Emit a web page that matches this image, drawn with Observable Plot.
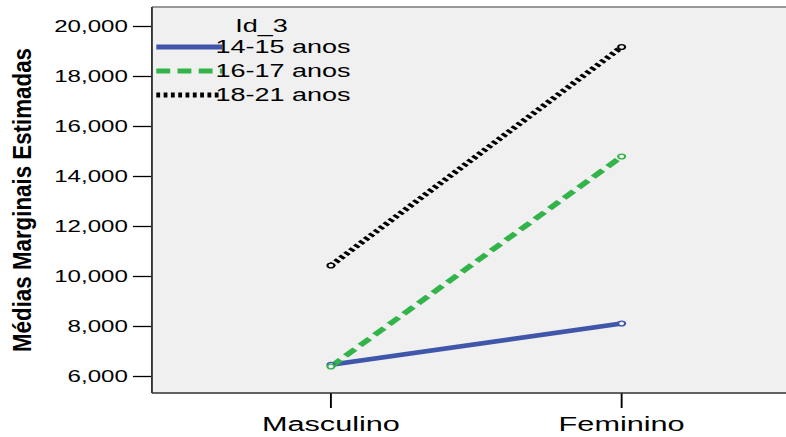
<!DOCTYPE html>
<html>
<head>
<meta charset="utf-8">
<script src="https://cdn.jsdelivr.net/npm/d3@7"></script>
<script src="https://cdn.jsdelivr.net/npm/@observablehq/plot@0.6"></script>
<style>
  html, body { margin: 0; padding: 0; background: white; }
  #chart { width: 786px; height: 437px; overflow: hidden; }
</style>
</head>
<body>
<div id="chart"></div>
<script>
// ---- data ----
const sexos = ["Masculino", "Feminino"];
const grupos = ["14-15 anos", "16-17 anos", "18-21 anos"];
const medias1415 = [6470, 8120];
const medias1617 = [6400, 14800];
const medias1821 = [10440, 19180];
const yTicks = [6000, 8000, 10000, 12000, 14000, 16000, 18000, 20000];
const legendTitle = "Id_3";
const yTitle = "Médias Marginais Estimadas";

// ---- styles ----
const colors = ["#3f56ab", "#33b44a", "#000000"];
const dashes = [null, "9.5,5", "2.6,2.4"];
const seriesValues = [medias1415, medias1617, medias1821];

const rows = grupos.map((g, i) => sexos.map((s, j) => ({grupo: g, sexo: s, valor: seriesValues[i][j]})));

const S = 1.46;               // horizontal stretch of the reference
const W = Math.round(786 / S);
const H = 437;
const mL = 104, mT = 7, mB = 44, mR = 0;
const font = "'Liberation Sans', Arial, Helvetica, sans-serif";

const marks = [
  Plot.frame({fill: "#f0f0f0", stroke: null}),
  Plot.axisY(yTicks, {tickSize: 13, tickPadding: 4, tickFormat: d3.format(","), fontSize: 16.5, strokeWidth: 1.3, label: null}),
  Plot.axisX({tickSize: 15, tickPadding: 8, fontSize: 21, strokeWidth: 1.3, label: null})
];
rows.forEach((r, i) => {
  marks.push(Plot.line(r, {x: "sexo", y: "valor", stroke: colors[i], strokeWidth: 4.7, strokeDasharray: dashes[i], strokeLinecap: "butt"}));
});
rows.forEach((r, i) => {
  marks.push(Plot.dot(r, {x: "sexo", y: "valor", r: 2.4, stroke: colors[i], strokeWidth: 1.4, fill: "#f0f0f0"}));
});

const chart = Plot.plot({
  width: W,
  height: H,
  marginLeft: mL, marginRight: mR, marginTop: mT, marginBottom: mB,
  style: {fontFamily: font, background: "white", color: "black", overflow: "visible"},
  x: {type: "point", domain: sexos, range: [225.7, 425.3], padding: 0, label: null},
  y: {domain: [6000, 20000], range: [376, 26], label: null},
  marks
});

const svg = d3.select(chart);
// frame lines (top gray, left/bottom dark)
svg.append("line").attr("x1", mL).attr("x2", W).attr("y1", mT).attr("y2", mT).attr("stroke", "#777").attr("stroke-width", 1.5);
svg.append("line").attr("x1", mL).attr("x2", mL).attr("y1", mT).attr("y2", H - mB).attr("stroke", "#333").attr("stroke-width", 1.3);
svg.append("line").attr("x1", mL).attr("x2", W).attr("y1", H - mB).attr("y2", H - mB).attr("stroke", "#333").attr("stroke-width", 1.5);

// y title
svg.append("text")
  .attr("transform", "translate(21.5,200) rotate(-90)")
  .attr("text-anchor", "middle")
  .attr("font-family", font)
  .attr("font-weight", "bold")
  .attr("font-size", 17.5)
  .attr("textLength", 304)
  .attr("lengthAdjust", "spacingAndGlyphs")
  .attr("fill", "black")
  .text(yTitle);

// legend
const lg = svg.append("g").attr("font-family", font).attr("font-size", 18.5).attr("fill", "black").attr("text-anchor", "start");
grupos.forEach((g, i) => {
  const cy = 47 + i * 24;
  lg.append("line").attr("x1", 107).attr("x2", 152).attr("y1", cy).attr("y2", cy)
    .attr("stroke", colors[i]).attr("stroke-width", 5)
    .attr("stroke-dasharray", dashes[i]);
});
lg.append("text").attr("x", 161).attr("y", 32).attr("text-anchor", "start").text(legendTitle);
grupos.forEach((g, i) => {
  const cy = 47 + i * 24;
  lg.append("text").attr("x", 147.5).attr("y", cy + 6.5).attr("text-anchor", "start").text(g);
});

// stretch horizontally like the reference
chart.setAttribute("preserveAspectRatio", "none");
chart.setAttribute("width", 786);
chart.setAttribute("height", 437);
chart.style.width = "786px";
chart.style.height = "437px";
chart.style.maxWidth = "none";

document.getElementById("chart").appendChild(chart);
</script>
</body>
</html>
